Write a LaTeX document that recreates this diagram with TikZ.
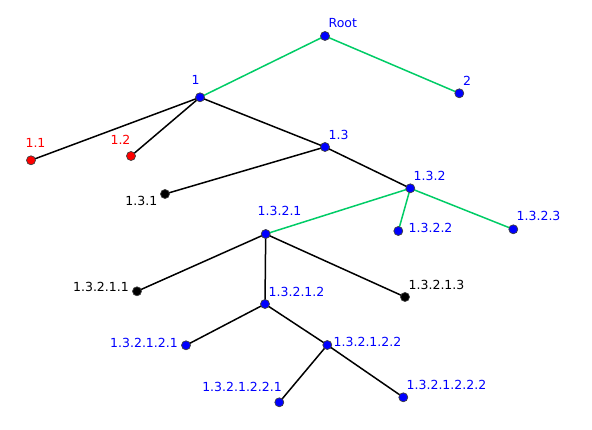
\documentclass[tikz,border=0pt]{standalone}
\usepackage{fontspec}
\setmainfont{DejaVu Sans}
\usetikzlibrary{backgrounds}
\definecolor{nblue}{RGB}{0,0,255}
\definecolor{nred}{RGB}{255,0,0}
\definecolor{egreen}{RGB}{0,204,102}
\tikzset{
  vtx/.style={circle,inner sep=0pt,minimum size=9pt,draw=black!75,line width=0.7pt,fill=#1},
  lbl/.style={inner sep=0pt,font=\fontsize{12.5}{14}\selectfont,text=#1},
  blk/.style={draw=black,line width=1.5pt},
  grn/.style={draw=egreen,line width=1.5pt},
}
\begin{document}
\begin{tikzpicture}[x=1pt,y=-1pt]
\useasboundingbox (0,0) rectangle (592,430);
% vertices
\node[vtx=nblue] (r) at (325,36) {};
\node[vtx=nblue] (n1) at (200,97.3) {};
\node[vtx=nblue] (n2) at (459.3,93.3) {};
\node[vtx=nred] (n11) at (31,160.3) {};
\node[vtx=nred] (n12) at (131,156) {};
\node[vtx=nblue] (n13) at (325,147) {};
\node[vtx=black] (n131) at (165,194) {};
\node[vtx=nblue] (n132) at (410.3,188.3) {};
\node[vtx=nblue] (n1321) at (265.7,234) {};
\node[vtx=nblue] (n1322) at (398.3,231) {};
\node[vtx=nblue] (n1323) at (513.3,229.3) {};
\node[vtx=black] (n13211) at (137,291.3) {};
\node[vtx=nblue] (n13212) at (265,304) {};
\node[vtx=black] (n13213) at (405,297) {};
\node[vtx=nblue] (n132121) at (186,345.3) {};
\node[vtx=nblue] (n132122) at (327.3,345) {};
\node[vtx=nblue] (n1321221) at (279.3,402.3) {};
\node[vtx=nblue] (n1321222) at (403.3,397.3) {};
% labels
\node[lbl=nblue,anchor=west] (lr) at (328.5,23.3) {Root};
\node[lbl=nblue] (l1) at (195.5,80) {1};
\node[lbl=nblue] (l2) at (467,80.5) {2};
\node[lbl=nred] (l11) at (35.5,143) {1.1};
\node[lbl=nred] (l12) at (120.5,140) {1.2};
\node[lbl=nblue,anchor=west] (l13) at (328.5,134.5) {1.3};
\node[lbl=black,anchor=east] (l131) at (157.5,200.5) {1.3.1};
\node[lbl=nblue,anchor=west] (l132) at (413.5,175.5) {1.3.2};
\node[lbl=nblue,anchor=west] (l1321) at (257.5,211) {1.3.2.1};
\node[lbl=nblue,anchor=west] (l1322) at (408.5,227.5) {1.3.2.2};
\node[lbl=nblue,anchor=west] (l1323) at (516.5,216) {1.3.2.3};
\node[lbl=black,anchor=east] (l13211) at (129,287) {1.3.2.1.1};
\node[lbl=nblue,anchor=west] (l13212) at (268.5,292) {1.3.2.1.2};
\node[lbl=black,anchor=west] (l13213) at (408.5,284.5) {1.3.2.1.3};
\node[lbl=nblue,anchor=east] (l132121) at (178,342.5) {1.3.2.1.2.1};
\node[lbl=nblue,anchor=west] (l132122) at (333.5,341.5) {1.3.2.1.2.2};
\node[lbl=nblue,anchor=east] (l1321221) at (282,386.5) {1.3.2.1.2.2.1};
\node[lbl=nblue,anchor=west] (l1321222) at (406.5,384.5) {1.3.2.1.2.2.2};
% edges
\begin{scope}[on background layer]
\draw[grn] (r.center) -- (n1.center);
\draw[grn] (r.center) -- (n2.center);
\draw[grn] (n132.center) -- (n1321.center);
\draw[grn] (n132.center) -- (n1322.center);
\draw[grn] (n132.center) -- (n1323.center);
\draw[blk] (n1.center) -- (n11.center);
\draw[blk] (n1.center) -- (n12.center);
\draw[blk] (n1.center) -- (n13.center);
\draw[blk] (n13.center) -- (n132.center);
\draw[blk] (n13.center) -- (n131.center);
\draw[blk] (n1321.center) -- (n13211.center);
\draw[blk] (n1321.center) -- (n13212.center);
\draw[blk] (n1321.center) -- (n13213.center);
\draw[blk] (n13212.center) -- (n132121.center);
\draw[blk] (n13212.center) -- (n132122.center);
\draw[blk] (n132122.center) -- (n1321221.center);
\draw[blk] (n132122.center) -- (n1321222.center);
\end{scope}
\end{tikzpicture}
\end{document}
